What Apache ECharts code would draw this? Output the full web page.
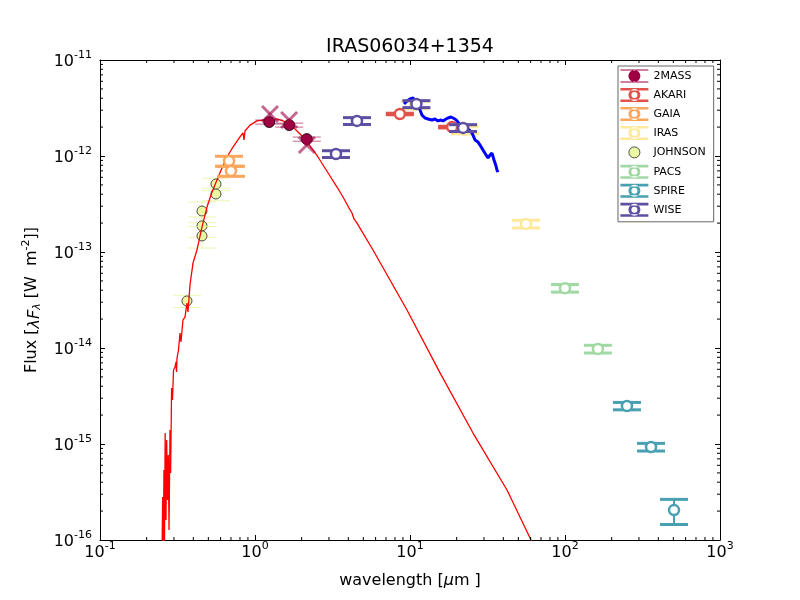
<!DOCTYPE html>
<html>
<head>
<meta charset="utf-8">
<script src="https://cdn.jsdelivr.net/npm/echarts@6/dist/echarts.min.js"></script>
<style>
    html, body { margin: 0; padding: 0; background: #fff; }
    #main { width: 800px; height: 600px; }
</style>
</head>
<body>
<div id="main"></div>
<script>
    // 模型曲线 (photosphere model)
    var modelWave = [0.251, 0.2537, 0.2560, 0.2587, 0.2606, 0.2633, 0.2665, 0.2693, 0.2726, 0.2758, 0.2788, 0.2829, 0.2855, 0.2897, 0.2936, 0.2980, 0.3047, 0.3093, 0.3116, 0.3140, 0.3210, 0.3282, 0.3331, 0.3431, 0.3535, 0.3641, 0.3695, 0.3807, 0.3981, 0.4224, 0.4550, 0.4900, 0.5280, 0.5685, 0.6124, 0.6597, 0.7212, 0.8002, 0.8368, 0.8492, 0.8619, 0.9284, 1.030, 1.126, 1.250, 1.387, 1.516, 1.633, 1.759, 1.894, 2.040, 2.198, 2.367, 2.550, 2.746, 3.047, 3.381, 3.696, 4.042, 4.225, 4.353, 4.551, 5.772, 9.564, 15.62, 25.50, 42.25, 60.35, 74.3];
    var modelFlux = [6.2e-17, 2.8e-16, 8.9e-17, 5.36e-16, 8.9e-17, 1.30e-15, 1.62e-16, 1.10e-15, 2.61e-16, 7.68e-16, 1.27e-16, 1.40e-15, 4.99e-16, 3.83e-15, 2.87e-15, 5.90e-15, 6.34e-15, 7.15e-15, 5.62e-15, 7.87e-15, 9.53e-15, 1.43e-14, 1.155e-14, 1.96e-14, 2.10e-14, 2.94e-14, 2.37e-14, 4.53e-14, 7.67e-14, 1.05e-13, 1.82e-13, 2.94e-13, 4.22e-13, 5.62e-13, 7.50e-13, 9.77e-13, 1.24e-12, 1.58e-12, 1.74e-12, 1.47e-12, 1.82e-12, 2.10e-12, 2.32e-12, 2.37e-12, 2.37e-12, 2.43e-12, 2.32e-12, 2.21e-12, 2.00e-12, 1.78e-12, 1.58e-12, 1.36e-12, 1.155e-12, 9.77e-13, 8.06e-13, 6.19e-13, 4.75e-13, 3.74e-13, 2.87e-13, 2.55e-13, 2.21e-13, 2.00e-13, 1.05e-13, 2.49e-14, 5.50e-15, 1.30e-15, 3.32e-16, 1.0e-16, 5.23e-17];

    // 光谱 (mid-IR spectrum)
    var specWave = [9.15, 9.56, 10.0, 10.46, 10.77, 11.26, 11.60, 11.95, 12.50, 13.07, 13.87, 14.50, 15.16, 15.85, 16.33, 17.07, 17.59, 18.39, 18.94, 19.51, 20.10, 21.02, 21.98, 22.98, 24.03, 25.12, 26.27, 27.46, 28.29, 29.58, 30.47, 31.86, 32.82, 33.81, 34.84, 35.89, 36.4, 36.7, 36.97];
    var specFlux = [3.48e-12, 3.74e-12, 3.93e-12, 4.02e-12, 4.12e-12, 3.56e-12, 3.01e-12, 2.67e-12, 2.49e-12, 2.43e-12, 2.37e-12, 2.43e-12, 2.32e-12, 2.37e-12, 2.32e-12, 2.43e-12, 2.49e-12, 2.55e-12, 2.61e-12, 2.43e-12, 2.32e-12, 2.10e-12, 2.00e-12, 1.96e-12, 1.87e-12, 1.74e-12, 1.47e-12, 1.40e-12, 1.30e-12, 1.155e-12, 1.07e-12, 9.53e-13, 1.02e-12, 1.07e-12, 9.08e-13, 7.87e-13, 7.15e-13, 7.5e-13, 6.8e-13];

    // 测光点 (photometry): wavelength, flux, flux error
    var twomassWave = [1.235, 1.662, 2.159];
    var twomassFlux = [2.26e-12, 2.10e-12, 1.50e-12];
    var twomassErr = [1.1e-13, 1.0e-13, 0.75e-13];
    var twomassXWave = [1.25, 1.66, 2.16];
    var twomassXFlux = [2.74e-12, 2.37e-12, 1.30e-12];

    var akariWave = [8.6, 18.7];
    var akariFlux = [2.74e-12, 2.0e-12];
    var akariErr = [0.05e-12, 0.04e-12];

    var gaiaWave = [0.68, 0.70];
    var gaiaFlux = [8.87e-13, 6.98e-13];
    var gaiaErr = [1.06e-13, 0.84e-13];

    var irasWave = [10.8, 22.6, 56];
    var irasFlux = [3.40e-12, 1.87e-12, 1.96e-13];
    var irasErr = [3.0e-13, 1.7e-13, 1.8e-14];

    var johnsonWave = [0.364, 0.455, 0.455, 0.455, 0.56, 0.56];
    var johnsonFlux = [3.09e-14, 2.67e-13, 1.87e-13, 1.47e-13, 5.11e-13, 4.02e-13];
    var johnsonErr = [0.45e-14, 0.65e-13, 0.45e-13, 0.37e-13, 0.75e-13, 0.6e-13];

    var pacsWave = [100, 163];
    var pacsFlux = [4.2e-14, 9.77e-15];
    var pacsErr = [3.8e-15, 0.9e-15];

    var spireWave = [251, 359, 505];
    var spireFlux = [2.49e-15, 9.3e-16, 2.05e-16];
    var spireErr = [2.2e-16, 0.85e-16, 0.6e-16];

    var wiseWave = [3.33, 4.55, 11.0, 22.0];
    var wiseFlux = [1.05e-12, 2.32e-12, 3.48e-12, 1.96e-12];
    var wiseErr = [0.85e-13, 1.9e-13, 2.9e-13, 1.6e-13];

    // 次刻度
    var xMinorTicks = [0.2, 0.3, 0.4, 0.5, 0.6, 0.7, 0.8, 0.9, 2, 3, 4, 5, 6, 7, 8, 9, 20, 30, 40, 50, 60, 70, 80, 90, 200, 300, 400, 500, 600, 700, 800, 900];
    var yMinorTicks = [2e-16, 3e-16, 4e-16, 5e-16, 6e-16, 7e-16, 8e-16, 9e-16, 2e-15, 3e-15, 4e-15, 5e-15, 6e-15, 7e-15, 8e-15, 9e-15, 2e-14, 3e-14, 4e-14, 5e-14, 6e-14, 7e-14, 8e-14, 9e-14, 2e-13, 3e-13, 4e-13, 5e-13, 6e-13, 7e-13, 8e-13, 9e-13, 2e-12, 3e-12, 4e-12, 5e-12, 6e-12, 7e-12, 8e-12, 9e-12];

    var FONT = 'DejaVu Sans';

    function zip(a, b, c) {
        return a.map(function (v, i) { return c ? [v, b[i], c[i]] : [v, b[i]]; });
    }

    // errorbar + marker, like matplotlib errorbar()
    function photRender(st) {
        return function (params, api) {
            var w = api.value(0), f = api.value(1), e = api.value(2);
            var c = api.coord([w, f]);
            var lo = api.coord([w, f - e])[1];
            var hi = api.coord([w, f + e])[1];
            var cap = 14;
            var capStyle = {stroke: st.err, lineWidth: st.capW};
            return {
                type: 'group',
                children: [
                    {type: 'line', shape: {x1: c[0], y1: lo, x2: c[0], y2: hi}, style: {stroke: st.err, lineWidth: st.lineW}},
                    {type: 'line', shape: {x1: c[0] - cap, y1: lo, x2: c[0] + cap, y2: lo}, style: capStyle},
                    {type: 'line', shape: {x1: c[0] - cap, y1: hi, x2: c[0] + cap, y2: hi}, style: capStyle},
                    {type: 'circle', shape: {cx: c[0], cy: c[1], r: st.r}, style: {fill: st.fill, stroke: st.edge, lineWidth: st.edgeW}}
                ]
            };
        };
    }

    function openStyle(color) {
        return {err: color, capW: 3, lineW: 2, r: 5, fill: '#fff', edge: color, edgeW: 2.5};
    }

    var bands = [
        {name: '2MASS', color: '#9e0142', data: zip(twomassWave, twomassFlux, twomassErr), z: 4,
            st: {err: 'rgba(158,1,66,0.6)', capW: 1, lineW: 1, r: 5.5, fill: '#9e0142', edge: '#000', edgeW: 0.8}},
        {name: 'AKARI', color: '#e2524a', data: zip(akariWave, akariFlux, akariErr), z: 4, st: openStyle('#e2524a')},
        {name: 'GAIA', color: '#fca55d', data: zip(gaiaWave, gaiaFlux, gaiaErr), z: 4, st: openStyle('#fca55d')},
        {name: 'IRAS', color: '#fee99a', data: zip(irasWave, irasFlux, irasErr), z: 1, st: openStyle('#fee99a')},
        {name: 'JOHNSON', color: '#edf8a3', data: zip(johnsonWave, johnsonFlux, johnsonErr), z: 1,
            st: {err: 'rgba(230,245,152,0.75)', capW: 1, lineW: 1, r: 5, fill: '#edf8a3', edge: '#222', edgeW: 0.8}},
        {name: 'PACS', color: '#a1d9a4', data: zip(pacsWave, pacsFlux, pacsErr), z: 4, st: openStyle('#a1d9a4')},
        {name: 'SPIRE', color: '#48a1b3', data: zip(spireWave, spireFlux, spireErr), z: 4, st: openStyle('#48a1b3')},
        {name: 'WISE', color: '#5e4fa2', data: zip(wiseWave, wiseFlux, wiseErr), z: 4, st: openStyle('#5e4fa2')}
    ];

    // legend icons (28 x 14)
    var iconOpen = 'path://M0 0H28V2.6H0Z M0 11.4H28V14H0Z M20 7A6 6 0 1 0 8 7A6 6 0 1 0 20 7Z M17 7A3 3 0 1 1 11 7A3 3 0 1 1 17 7Z';
    var iconFilled = 'path://M0 0.5H28V1.5H0Z M0 12.5H28V13.5H0Z M20 7A6 6 0 1 0 8 7A6 6 0 1 0 20 7Z M0 0L0 0M28 14L28 14';
    var iconDot = 'path://M0 0L0 0M28 14L28 14M19.5 7A5.5 5.5 0 1 0 8.5 7A5.5 5.5 0 1 0 19.5 7Z';

    var legendData = bands.map(function (b) {
        var item = {name: b.name, icon: iconOpen, itemStyle: {color: b.color, borderWidth: 0}};
        if (b.name === '2MASS') item.icon = iconFilled;
        if (b.name === 'JOHNSON') {
            item.icon = iconDot;
            item.itemStyle = {color: '#edf8a3', borderColor: '#222', borderWidth: 0.8};
        }
        return item;
    });

    function powLabel(v) {
        var e = Math.round(Math.log10(v));
        return '{b|10}{s|' + e + '}';
    }
    var powRich = {
        b: {fontSize: 16, fontFamily: FONT, color: '#000', lineHeight: 20, verticalAlign: 'bottom'},
        s: {fontSize: 11, fontFamily: FONT, color: '#000', lineHeight: 11, verticalAlign: 'top'}
    };

    function logAxis(pos, min, max, labels) {
        return {
            type: 'log',
            logBase: 10,
            position: pos,
            min: min,
            max: max,
            axisLine: {show: true, onZero: false, lineStyle: {color: '#000', width: 1}},
            axisTick: {show: true, inside: true, length: 5, lineStyle: {color: '#000'}},
            axisLabel: labels ? {show: true, interval: 0, formatter: powLabel, rich: powRich, margin: pos === 'left' ? 8 : 1} : {show: false},
            splitLine: {show: false}
        };
    }

    var series = [];

    series.push({
        name: 'model', type: 'line', z: 2,
        data: zip(modelWave, modelFlux),
        showSymbol: false, symbol: 'none', clip: true,
        lineStyle: {color: '#ff0000', width: 1.3},
        silent: true
    });
    series.push({
        name: 'spectrum', type: 'line', z: 2,
        data: zip(specWave, specFlux),
        showSymbol: false, symbol: 'none',
        lineStyle: {color: '#0000ff', width: 3},
        silent: true
    });

    bands.forEach(function (b) {
        series.push({
            name: b.name, type: 'custom', z: b.z,
            itemStyle: {color: b.color},
            data: b.data,
            encode: {x: 0, y: 1},
            renderItem: photRender(b.st),
            silent: true
        });
    });

    // 2MASS 'x' markers
    series.push({
        name: '2MASS x', type: 'custom', z: 4,
        data: zip(twomassXWave, twomassXFlux),
        encode: {x: 0, y: 1},
        renderItem: function (params, api) {
            var c = api.coord([api.value(0), api.value(1)]);
            var s = 8, st = {stroke: 'rgba(158,1,66,0.6)', lineWidth: 3};
            return {type: 'group', children: [
                {type: 'line', shape: {x1: c[0] - s, y1: c[1] - s, x2: c[0] + s, y2: c[1] + s}, style: st},
                {type: 'line', shape: {x1: c[0] - s, y1: c[1] + s, x2: c[0] + s, y2: c[1] - s}, style: st}
            ]};
        },
        silent: true
    });

    // minor ticks on all four sides
    series.push({
        name: 'xminor', type: 'custom', z: 5, silent: true,
        data: xMinorTicks.map(function (v) { return [v, 1e-16]; }),
        encode: {x: 0, y: 1},
        renderItem: function (params, api) {
            var cs = params.coordSys;
            var x = api.coord([api.value(0), api.value(1)])[0];
            var st = {stroke: '#000', lineWidth: 1};
            return {type: 'group', children: [
                {type: 'line', shape: {x1: x, y1: cs.y + cs.height, x2: x, y2: cs.y + cs.height - 3}, style: st},
                {type: 'line', shape: {x1: x, y1: cs.y, x2: x, y2: cs.y + 3}, style: st}
            ]};
        }
    });
    series.push({
        name: 'yminor', type: 'custom', z: 5, silent: true,
        data: yMinorTicks.map(function (v) { return [0.1, v]; }),
        encode: {x: 0, y: 1},
        renderItem: function (params, api) {
            var cs = params.coordSys;
            var y = api.coord([api.value(0), api.value(1)])[1];
            var st = {stroke: '#000', lineWidth: 1};
            return {type: 'group', children: [
                {type: 'line', shape: {x1: cs.x, y1: y, x2: cs.x + 3, y2: y}, style: st},
                {type: 'line', shape: {x1: cs.x + cs.width, y1: y, x2: cs.x + cs.width - 3, y2: y}, style: st}
            ]};
        }
    });

    var myChart = echarts.init(document.getElementById('main'));
    myChart.setOption({
        animation: false,
        backgroundColor: '#fff',
        textStyle: {fontFamily: FONT},
        title: {
            text: 'IRAS06034+1354',
            left: 410, top: 38, padding: 0,
            textAlign: 'center',
            textStyle: {fontSize: 19, fontWeight: 'normal', color: '#000', fontFamily: FONT}
        },
        grid: {left: 100, right: 80, top: 60, bottom: 60, containLabel: false},
        legend: {
            orient: 'vertical',
            left: 618, top: 66,
            data: legendData,
            itemWidth: 28, itemHeight: 14, itemGap: 5,
            padding: [3, 8, 5, 2],
            borderColor: '#666', borderWidth: 1,
            backgroundColor: '#fff',
            selectedMode: false,
            textStyle: {fontSize: 11, color: '#000', fontFamily: FONT}
        },
        xAxis: [
            Object.assign(logAxis('bottom', 0.1, 1000, true), {
                name: 'wavelength [{i|μ}m ]',
                nameLocation: 'middle', nameGap: 33,
                nameTextStyle: {
                    fontSize: 16, color: '#000', fontFamily: FONT,
                    rich: {i: {fontSize: 16, fontStyle: 'italic', color: '#000', fontFamily: FONT}}
                }
            }),
            logAxis('top', 0.1, 1000, false)
        ],
        yAxis: [
            Object.assign(logAxis('left', 1e-16, 1e-11, true), {
                name: 'Flux [{i|λF}{sub|λ} [W  m{sup|-2}]]',
                nameLocation: 'middle', nameGap: 52, nameRotate: 90,
                nameTextStyle: {
                    fontSize: 16, color: '#000', fontFamily: FONT,
                    rich: {
                        i: {fontSize: 16, fontStyle: 'italic', color: '#000', fontFamily: FONT, lineHeight: 22, verticalAlign: 'bottom'},
                        sub: {fontSize: 11, fontStyle: 'italic', color: '#000', fontFamily: FONT, lineHeight: 11, verticalAlign: 'bottom'},
                        sup: {fontSize: 11, color: '#000', fontFamily: FONT, lineHeight: 11, verticalAlign: 'top'}
                    }
                }
            }),
            logAxis('right', 1e-16, 1e-11, false)
        ],
        series: series
    });
</script>
</body>
</html>
